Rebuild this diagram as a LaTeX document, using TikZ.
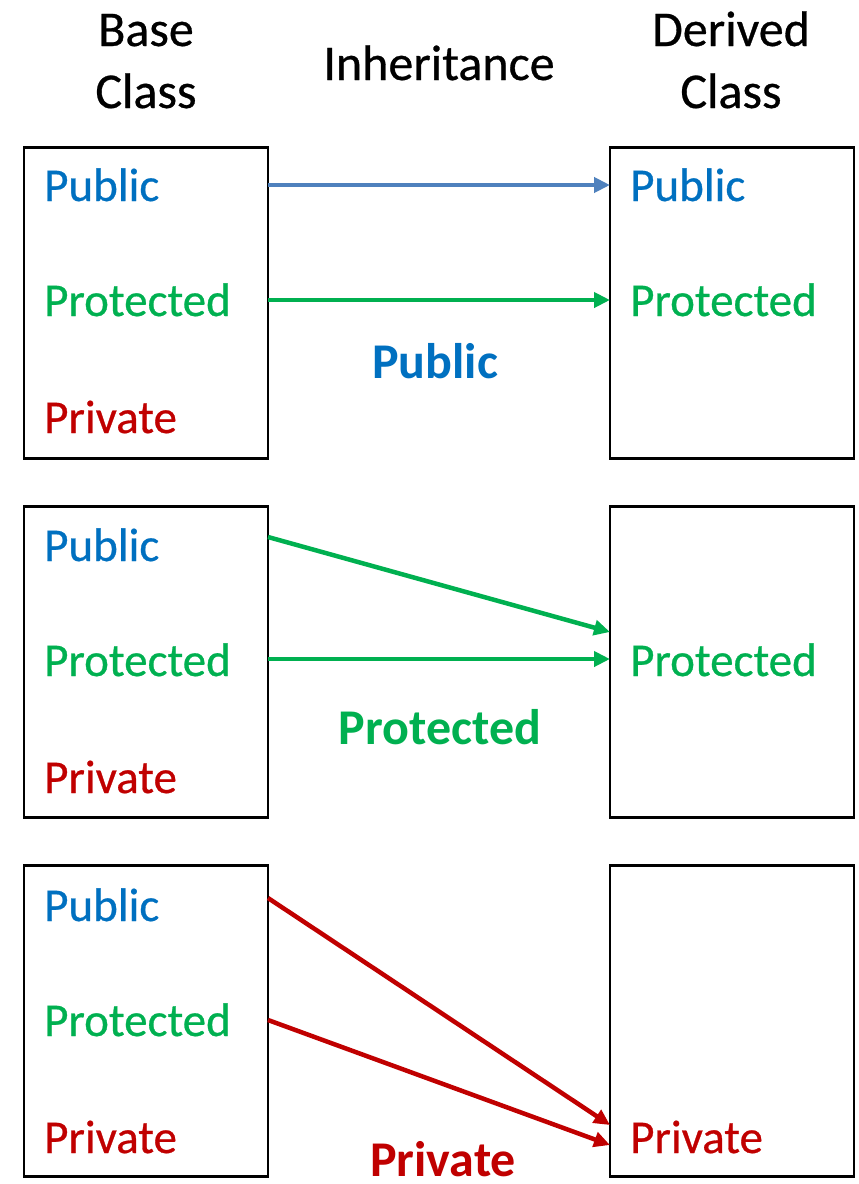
\documentclass[tikz,border=0pt]{standalone}
\usepackage{fontspec}
\setmainfont{Carlito}
\newfontfamily\memfont{Carlito}[FakeBold=0.6]
\usetikzlibrary{arrows.meta}
\definecolor{pubblue}{HTML}{0070C0}
\definecolor{progreen}{HTML}{00B050}
\definecolor{privred}{HTML}{C00000}
\definecolor{linkblue}{HTML}{4F81BD}
\tikzset{cls/.style={draw,line width=2.5pt,minimum width=244pt,minimum height=311pt,inner sep=0pt},
  mem/.style={anchor=base west,inner sep=0pt,font=\memfont\fontsize{47}{56}\selectfont},
  mode/.style={anchor=base,inner sep=0pt,font=\bfseries\fontsize{50}{60}\selectfont},
  head/.style={anchor=base,align=center,inner sep=0pt,font=\memfont\fontsize{50}{62}\selectfont},
  flow/.style={-{Triangle[length=16pt,width=15pt]},line width=4.5pt}}

\begin{document}
\begin{tikzpicture}[x=1pt,y=-1pt]
\useasboundingbox (0,0) rectangle (859,1184);
% column headings (base anchor sits on the last line)
\node[head] (hbase) at (146,108) {Base\\Class};
\node[head] (hinh) at (439,80) {Inheritance};
\node[head] (hder) at (731,108) {Derived\\Class};
% base and derived boxes, one pair per kind of inheritance
\foreach \r/\y in {1/303,2/662,3/1021}{
  \node[cls] (base\r) at (146,\y) {};
  \node[cls] (der\r) at (732,\y) {};
}
% public inheritance
\node[mem,text=pubblue] (b1pub) at (44,201) {Public};
\node[mem,text=progreen] (b1pro) at (44,316) {Protected};
\node[mem,text=privred] (b1pri) at (44,433) {Private};
\node[mem,text=pubblue] (d1pub) at (630,201) {Public};
\node[mem,text=progreen] (d1pro) at (630,316) {Protected};
\node[mode,text=pubblue] (m1) at (435,378) {Public};
\coordinate (s1a) at (268,185); \coordinate (t1a) at (610,185);
\coordinate (s1b) at (268,300); \coordinate (t1b) at (610,300);
\draw[flow,linkblue] (s1a) -- (t1a);
\draw[flow,progreen] (s1b) -- (t1b);
% protected inheritance
\node[mem,text=pubblue] (b2pub) at (44,561) {Public};
\node[mem,text=progreen] (b2pro) at (44,676) {Protected};
\node[mem,text=privred] (b2pri) at (44,793) {Private};
\node[mem,text=progreen] (d2pro) at (630,676) {Protected};
\node[mode,text=progreen] (m2) at (440,744) {Protected};
\coordinate (s2a) at (268,537); \coordinate (t2a) at (610,632);
\coordinate (s2b) at (268,659); \coordinate (t2b) at (610,659);
\draw[flow,progreen] (s2a) -- (t2a);
\draw[flow,progreen] (s2b) -- (t2b);
% private inheritance
\node[mem,text=pubblue] (b3pub) at (44,921) {Public};
\node[mem,text=progreen] (b3pro) at (44,1036) {Protected};
\node[mem,text=privred] (b3pri) at (44,1153) {Private};
\node[mem,text=privred] (d3pri) at (630,1153) {Private};
\node[mode,text=privred] (m3) at (443,1176) {Private};
\coordinate (s3a) at (268,898); \coordinate (t3a) at (610,1125);
\coordinate (s3b) at (268,1020); \coordinate (t3b) at (610,1145);
\draw[flow,privred] (s3a) -- (t3a);
\draw[flow,privred] (s3b) -- (t3b);
\end{tikzpicture}
\end{document}
